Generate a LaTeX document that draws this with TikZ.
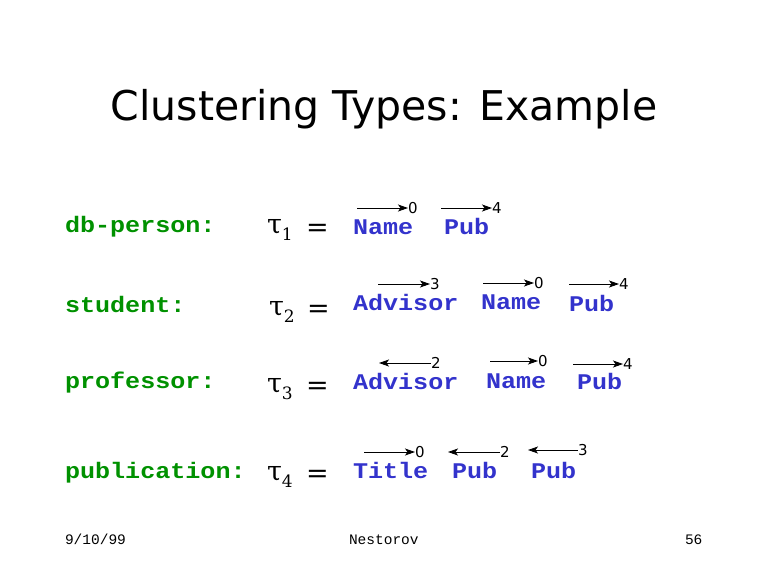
\documentclass[tikz,border=0pt]{standalone}
\usepackage{fontspec}
\usetikzlibrary{arrows.meta,positioning}
\newfontfamily\titlefont{DejaVu Sans}
\newfontfamily\codefont{Liberation Mono}
\newfontfamily\wordfont[FakeStretch=1.12]{Liberation Mono}
\newfontfamily\greekfont{DejaVu Serif}
\newfontfamily\numfont{DejaVu Sans}
\definecolor{typegreen}{RGB}{0,145,0}
\definecolor{attblue}{RGB}{51,51,204}
\newcommand{\tauof}[1]{τ\raisebox{-7pt}{\fontsize{17}{17}\selectfont #1}}

\begin{document}
\begin{tikzpicture}[x=1pt,y=-1pt,every node/.style={inner sep=0pt,outer sep=0pt},
      typelbl/.style={anchor=base west,font=\wordfont\bfseries\fontsize{22.4}{25}\selectfont,text=typegreen},
      attr/.style={anchor=base west,font=\wordfont\bfseries\fontsize{22.4}{25}\selectfont,text=attblue},
      tau/.style={anchor=base west,font=\greekfont\fontsize{27}{27}\selectfont},
      num/.style={anchor=west,font=\numfont\fontsize{15}{15}\selectfont},
      foot/.style={anchor=base west,font=\codefont\fontsize{14.5}{15}\selectfont},
      vec/.style={-{Stealth[length=10pt,width=7pt,inset=2.5pt]},line width=0.9pt}]
    \useasboundingbox (0,0) rectangle (768,576);
    \node[font=\titlefont\fontsize{41}{41}\selectfont,anchor=base] (title) at (384,120) {Clustering Types: Example};
    % type names
    \node[typelbl] (dbp) at (65,232) {db-person:};
    \node[typelbl] (stu) at (65,312) {student:};
    \node[typelbl] (prof) at (65,388) {professor:};
    \node[typelbl] (publ) at (65,478) {publication:};
    % tau_i =
    \node[tau] (t1) at (267,233) {\tauof{1}};
    \node[tau] (t2) at (269,315) {\tauof{2}};
    \node[tau] (t3) at (267,392) {\tauof{3}};
    \node[tau] (t4) at (267,480) {\tauof{4}};
    \node[tau] (eq1) at (306,236) {=};
    \node[tau] (eq2) at (307,317) {=};
    \node[tau] (eq3) at (306,394) {=};
    \node[tau] (eq4) at (306,482) {=};
    % row 1
    \node[attr] (name1) at (353,234) {Name};
    \node[attr] (pub1) at (444,234) {Pub};
    \node[num] (n1a) at (408,208) {0};
    \node[num] (n1b) at (492,208) {4};
    \coordinate (s1a) at (357,208);
    \coordinate (s1b) at (441,208);
    % row 2
    \node[attr] (adv2) at (353,310) {Advisor};
    \node[attr] (name2) at (481,309) {Name};
    \node[attr] (pub2) at (569,311) {Pub};
    \node[num] (n2a) at (430,284) {3};
    \node[num] (n2b) at (534,283) {0};
    \node[num] (n2c) at (619,284) {4};
    \coordinate (s2a) at (378,284);
    \coordinate (s2b) at (483,283);
    \coordinate (s2c) at (569,284);
    % row 3
    \node[attr] (adv3) at (353,389) {Advisor};
    \node[attr] (name3) at (486,388) {Name};
    \node[attr] (pub3) at (577,389) {Pub};
    \node[num] (n3a) at (431,363) {2};
    \node[num] (n3b) at (538,361) {0};
    \node[num] (n3c) at (623,364) {4};
    \coordinate (h3a) at (379,363);
    \coordinate (s3b) at (490,361);
    \coordinate (s3c) at (573,364);
    % row 4
    \node[attr] (title4) at (353,478) {Title};
    \node[attr] (pub4) at (452,478) {Pub};
    \node[attr] (pub4b) at (531,478) {Pub};
    \node[num] (n4a) at (415,452) {0};
    \node[num] (n4b) at (500,452) {2};
    \node[num] (n4c) at (578,450) {3};
    \coordinate (s4a) at (364,452);
    \coordinate (h4b) at (448,452);
    \coordinate (h4c) at (528,450);
    % arrows
    \foreach \a/\b in {s1a/n1a,s1b/n1b,s2a/n2a,s2b/n2b,s2c/n2c,s3b/n3b,s3c/n3c,s4a/n4a}{\draw[vec] (\a) -- (\b.west);}
    \foreach \a/\b in {n3a/h3a,n4b/h4b,n4c/h4c}{\draw[vec] (\a.west) -- (\b);}
    % footer
    \node[foot] (date) at (65,544) {9/10/99};
    \node[foot] (auth) at (349,544) {Nestorov};
    \node[foot] (page) at (685,544) {56};
\end{tikzpicture}
\end{document}
